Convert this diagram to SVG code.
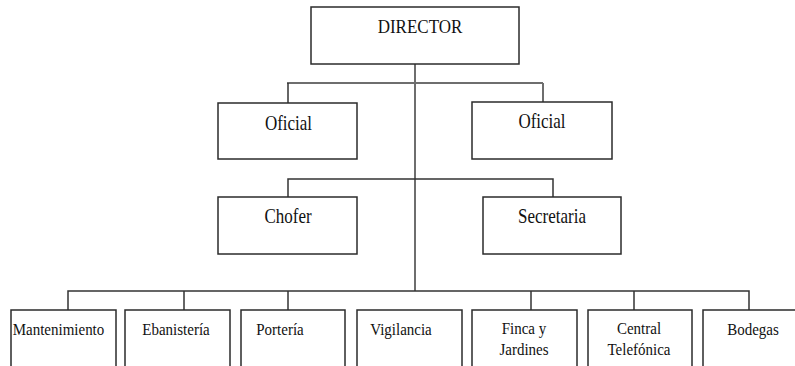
<svg xmlns="http://www.w3.org/2000/svg" width="795" height="366" viewBox="0 0 795 366">
  <style>
    .box { fill: #ffffff; stroke: #2b2b2b; stroke-width: 1.5; }
    .lbl { font-family: 'Liberation Serif', 'DejaVu Serif', serif; fill: #111111; text-anchor: middle; }
    .big { font-size: 17px; }
    .small { font-size: 15px; }
    .link { fill: none; stroke: #333333; stroke-width: 1.5; }
    .trunk { fill: none; stroke: #6e6e6e; stroke-width: 2; }
  </style>
  <rect width="795" height="366" fill="#ffffff"/>

  <g id="connectors">
    <!-- main vertical trunk -->
    <path class="trunk" d="M415,64 V291"/>
    <!-- director to officials -->
    <path class="trunk" d="M287,83 H543"/>
    <path class="link" d="M288,83 V103"/>
    <path class="trunk" d="M543,83 V102"/>
    <!-- chofer / secretaria -->
    <path class="link" d="M288,198 V179 H553 V198"/>
    <!-- bottom row -->
    <path class="link" d="M68,310 V291 H749 V310"/>
    <path class="link" d="M184,291 V310"/>
    <path class="link" d="M288,291 V310"/>
    <path class="link" d="M531,291 V310"/>
    <path class="link" d="M634,291 V310"/>
  </g>

  <!-- labels are stretched slightly taller than the font's natural proportions -->
  <g id="director">
    <rect class="box" x="311" y="7" width="208" height="57"/>
    <text class="lbl big" transform="translate(420 33) scale(1 1.14)">DIRECTOR</text>
  </g>

  <g id="oficial-1">
    <rect class="box" x="218" y="103" width="139" height="56"/>
    <text class="lbl big" transform="translate(288.5 130) scale(1 1.2)">Oficial</text>
  </g>
  <g id="oficial-2">
    <rect class="box" x="472" y="102" width="140" height="57"/>
    <text class="lbl big" transform="translate(542 128) scale(1 1.2)">Oficial</text>
  </g>

  <g id="chofer">
    <rect class="box" x="218" y="197" width="139" height="57"/>
    <text class="lbl big" transform="translate(288 223) scale(1 1.2)">Chofer</text>
  </g>
  <g id="secretaria">
    <rect class="box" x="483" y="197" width="138" height="57"/>
    <text class="lbl big" transform="translate(552 223) scale(1 1.2)">Secretaria</text>
  </g>

  <g id="mantenimiento">
    <rect class="box" x="11" y="310" width="105" height="70"/>
    <text class="lbl small" transform="translate(58.5 335) scale(1 1.18)">Mantenimiento</text>
  </g>
  <g id="ebanisteria">
    <rect class="box" x="125" y="310" width="105" height="70"/>
    <text class="lbl small" transform="translate(176 335) scale(1 1.18)">Ebanistería</text>
  </g>
  <g id="porteria">
    <rect class="box" x="241" y="310" width="104" height="70"/>
    <text class="lbl small" transform="translate(280 335) scale(1 1.18)">Portería</text>
  </g>
  <g id="vigilancia">
    <rect class="box" x="357" y="310" width="105" height="70"/>
    <text class="lbl small" transform="translate(401 335) scale(1 1.18)">Vigilancia</text>
  </g>
  <g id="finca">
    <rect class="box" x="472" y="310" width="105" height="70"/>
    <text class="lbl small" transform="translate(524 333.5) scale(1 1.18)">Finca y</text>
    <text class="lbl small" transform="translate(524 354.5) scale(1 1.18)">Jardines</text>
  </g>
  <g id="central">
    <rect class="box" x="588" y="310" width="104" height="70"/>
    <text class="lbl small" transform="translate(639 333.5) scale(1 1.18)">Central</text>
    <text class="lbl small" transform="translate(639 354.5) scale(1 1.18)">Telefónica</text>
  </g>
  <g id="bodegas">
    <rect class="box" x="703" y="310" width="100" height="70"/>
    <text class="lbl small" transform="translate(753 335) scale(1 1.18)">Bodegas</text>
  </g>
</svg>
